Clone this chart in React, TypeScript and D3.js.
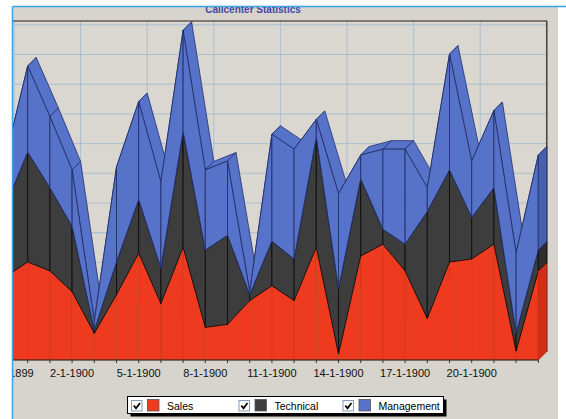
import React from 'react'
import * as d3 from 'd3'

// data (one point per day)
const firstDay = '30-12-1899'
const lastDay = '23-1-1900'
const seriesNames = ['Sales', 'Technical', 'Management']
const sales = [28, 33, 30, 23, 9, 22, 36, 19, 38, 11, 12, 20, 25, 20, 38, 2, 35, 39, 30, 14, 33, 34, 39, 3, 30]
const technical = [24, 37, 28, 22, 1, 11, 18, 12, 39, 26, 30, 2, 15, 14, 37, 22, 26, 5, 9, 36, 31, 14, 19, 6, 7]
const management = [16, 29, 24, 19, 3, 32, 33, 29, 34, 27, 25, 1, 36, 37, 6, 32, 8, 27, 32, 8, 39, 19, 26, 27, 32]
const tickLabels = ['30-12-1899', '2-1-1900', '5-1-1900', '8-1-1900', '11-1-1900', '14-1-1900', '17-1-1900', '20-1-1900']
const gridValues = [0, 10, 20, 30, 40, 50, 60, 70, 80, 90, 100, 110]
const title = 'Callcenter Statistics'

const fills = ['#ee3a1e', '#3d3d3d', '#5673c9']
const sideFills = ['#d22e16', '#2e2e2e', '#4760ad']
const edges = ['#b52a14', '#0d0d0d', '#22306c']

const W = 566
const H = 419
const DX = 8.5 // 3d depth offset
const DY = 8.5
const FLOOR = 360

const parse = d3.utcParse('%d-%m-%Y')
const days = d3.utcDay.range(parse(firstDay)!, d3.utcDay.offset(parse(lastDay)!, 1))
const rows = days.map((d, i) => ({ date: d, Sales: sales[i], Technical: technical[i], Management: management[i] }))

const x = d3.scaleUtc().domain([parse(firstDay)!, parse(lastDay)!]).range([5.5, 538.3])
const y = d3.scaleLinear().domain([0, 110]).range([FLOOR, FLOOR - 110 * 2.97])

const stacked = d3.stack<any>().keys(seriesNames)(rows)

type P = [number, number]
const poly = (pts: P[]) => 'M' + pts.map(p => p[0].toFixed(2) + ',' + p[1].toFixed(2)).join('L') + 'Z'

export default function App() {
  const wallRight = x(parse(lastDay)!) + DX
  const wallTop = 21
  const wallBottom = FLOOR - DY
  const wallLeft = x(parse(firstDay)!) + DX

  const roofs: JSX.Element[] = []
  const fronts: JSX.Element[] = []
  const sides: JSX.Element[] = []

  stacked.forEach((layer, s) => {
    const pts = layer.map((d, i) => ({ xf: x(days[i]), lo: y(d[0]), hi: y(d[1]) }))
    for (let i = 0; i < pts.length - 1; i++) {
      const a = pts[i]
      const b = pts[i + 1]
      roofs.push(
        <path key={`r${s}-${i}`} d={poly([[a.xf, a.hi], [b.xf, b.hi], [b.xf + DX, b.hi - DY], [a.xf + DX, a.hi - DY]])}
          fill={fills[s]} stroke={edges[s]} strokeWidth={0.8} strokeLinejoin="round" />
      )
      fronts.push(
        <path key={`f${s}-${i}`} d={poly([[a.xf, a.lo], [a.xf, a.hi], [b.xf, b.hi], [b.xf, b.lo]])}
          fill={fills[s]} stroke={edges[s]} strokeWidth={s === 0 ? 0.6 : 0.9} strokeOpacity={s === 0 ? 0.6 : 1} />
      )
    }
    const e = pts[pts.length - 1]
    sides.push(
      <path key={`s${s}`} d={poly([[e.xf, e.lo], [e.xf, e.hi], [e.xf + DX, e.hi - DY], [e.xf + DX, e.lo - DY]])}
        fill={sideFills[s]} stroke={edges[s]} strokeWidth={0.8} />
    )
  })

  const legendX = [131, 238.5, 342.5]

  return (
    <svg width={W} height={H} style={{ position: 'absolute', left: 0, top: 0, fontFamily: 'Arial, "Liberation Sans", sans-serif' }}>
      <defs>
        <clipPath id="panel">
          <rect x={13} y={7} width={545} height={H - 7} />
        </clipPath>
      </defs>
      <rect width={W} height={H} fill="#ffffff" />
      <g clipPath="url(#panel)">
        <rect x={13} y={7} width={545} height={H - 7} fill="#d7d3cd" />
        <text x={253} y={12.5} textAnchor="middle" fontSize={10} fontWeight="bold" fill="#4747a3">{title}</text>

        {/* back wall grid */}
        <rect x={wallLeft} y={wallTop} width={wallRight - wallLeft} height={wallBottom - wallTop} fill="#dad6d0" />
        {gridValues.map(v => (
          <line key={`h${v}`} x1={wallLeft} x2={wallRight} y1={y(v) - DY} y2={y(v) - DY} stroke="#a9c0d2" strokeWidth={1} />
        ))}
        {tickLabels.map(t => {
          const gx = x(parse(t)!) + DX
          return <line key={`v${t}`} x1={gx} x2={gx} y1={wallTop} y2={wallBottom} stroke="#a9c0d2" strokeWidth={1} />
        })}
        <line x1={0} x2={wallRight} y1={wallTop} y2={wallTop} stroke="#2a1a18" strokeWidth={1.2} />
        <line x1={wallRight} x2={wallRight} y1={wallTop} y2={wallBottom} stroke="#2a1a18" strokeWidth={1.2} />

        {roofs}
        {fronts}
        {sides}

        {/* bottom axis */}
        <line x1={0} x2={x(parse(lastDay)!)} y1={FLOOR} y2={FLOOR} stroke="#222" strokeWidth={1.2} />
        {days.map((d, i) => (
          <line key={`t${i}`} x1={x(d)} x2={x(d)} y1={FLOOR} y2={FLOOR + 3} stroke="#333" strokeWidth={1} />
        ))}
        {tickLabels.map(t => (
          <text key={`l${t}`} x={x(parse(t)!)} y={377} textAnchor="middle" fontSize={11} fill="#111">{t}</text>
        ))}

        {/* legend */}
        <rect x={130.5} y={399.5} width={316} height={17} fill="#000" />
        <rect x={127.5} y={396.5} width={316} height={17} fill="#fff" stroke="#000" strokeWidth={1} />
        {seriesNames.map((name, k) => {
          const lx = legendX[k]
          return (
            <g key={name}>
              <rect x={lx + 0.5} y={400.5} width={10.5} height={10.5} fill="#fff" stroke="#7f9db9" strokeWidth={1} />
              <path d={`M${lx + 2.8},${405.5} L${lx + 5},${408.2} L${lx + 9},${403}`} fill="none" stroke="#000" strokeWidth={1.8} />
              <rect x={lx + 16.5} y={399.5} width={11.5} height={11.5} fill={fills[k]} stroke="#555" strokeWidth={0.8} />
              <text x={lx + 36} y={409.5} fontSize={10.5} fill="#000">{name}</text>
            </g>
          )
        })}
      </g>
      <line x1={12.5} x2={W} y1={6.5} y2={6.5} stroke="#3aa3e6" strokeWidth={1.5} />
      <line x1={12.5} x2={12.5} y1={6.5} y2={H} stroke="#3aa3e6" strokeWidth={1.5} />
    </svg>
  )
}
